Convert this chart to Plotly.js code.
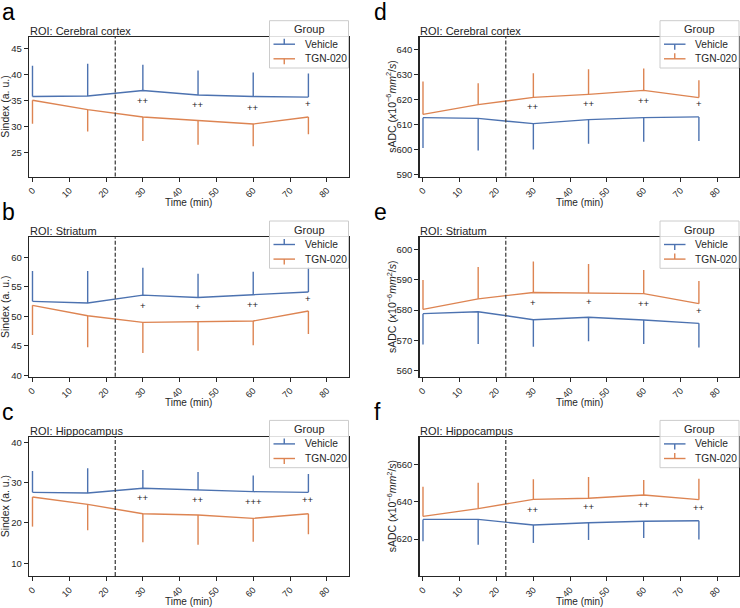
<!DOCTYPE html>
<html>
<head>
<meta charset="utf-8">
<script src="https://cdn.plot.ly/plotly-3.0.1.min.js"></script>
<style>html,body{margin:0;padding:0;background:#fff;}#chart{width:740px;height:608px;}</style>
</head>
<body>
<div id="chart"></div>
<script>
// ---------- data ----------
const timeMin = [0, 15, 30, 45, 60, 75];
const xTickVals = [0, 10, 20, 30, 40, 50, 60, 70, 80];
const injectionTime = 22.5;
const groups = ['Vehicle', 'TGN-020'];
const legendTitle = 'Group';
const sigTimes = [30, 45, 60, 75];

// a: Sindex, Cerebral cortex
const a_vehicle    = [35.8, 35.9, 36.95, 36.1, 35.8, 35.7];
const a_vehicleEnd = [41.7, 42.1, 41.9, 40.8, 40.4, 40.2];
const a_tgn        = [35.1, 33.3, 31.9, 31.25, 30.55, 31.9];
const a_tgnEnd     = [30.6, 29.1, 27.3, 26.6, 26.3, 28.6];
const a_sig  = ['++', '++', '++', '+'];
const a_sigY = [35.1, 34.3, 33.8, 34.5];

// b: Sindex, Striatum
const b_vehicle    = [52.54, 52.26, 53.6, 53.2, 53.67, 54.12];
const b_vehicleEnd = [57.68, 57.68, 58.25, 57.23, 57.57, 58.3];
const b_tgn        = [51.86, 50.1, 48.98, 49.15, 49.2, 50.9];
const b_tgnEnd     = [46.84, 44.75, 43.78, 44.18, 45.08, 47.0];
const b_sig  = ['+', '+', '++', '+'];
const b_sigY = [51.86, 51.75, 52.03, 53.1];

// c: Sindex, Hippocampus
const c_vehicle    = [27.6, 27.44, 28.6, 28.18, 27.77, 27.6];
const c_vehicleEnd = [32.9, 33.6, 33.14, 32.64, 31.8, 32.15];
const c_tgn        = [26.45, 24.6, 22.3, 21.98, 21.15, 22.3];
const c_tgnEnd     = [19.1, 18.2, 15.2, 14.6, 15.37, 17.2];
const c_sig  = ['++', '++', '+++', '++'];
const c_sigY = [26.3, 25.87, 25.37, 25.87];

// d: sADC, Cerebral cortex
const d_vehicle    = [612.8, 612.5, 610.4, 612.0, 612.8, 613.1];
const d_vehicleEnd = [600.7, 599.7, 600.1, 602.4, 603.2, 603.5];
const d_tgn        = [614.1, 618.0, 620.9, 622.1, 623.7, 620.8];
const d_tgnEnd     = [627.2, 626.5, 630.5, 632.1, 632.4, 627.7];
const d_sig  = ['++', '++', '++', '+'];
const d_sigY = [617.1, 618.4, 619.7, 618.3];

// e: sADC, Striatum
const e_vehicle    = [578.8, 579.45, 576.8, 577.6, 576.7, 575.6];
const e_vehicleEnd = [568.6, 568.8, 567.9, 569.7, 568.8, 567.6];
const e_tgn        = [580.2, 583.7, 585.8, 585.6, 585.4, 582.1];
const e_tgnEnd     = [589.9, 594.2, 596.0, 595.2, 593.2, 589.6];
const e_sig  = ['+', '+', '++', '+'];
const e_sigY = [582.5, 582.7, 582.2, 580.0];

// f: sADC, Hippocampus
const f_vehicle    = [630.5, 630.5, 627.5, 628.75, 629.5, 629.8];
const f_vehicleEnd = [618.75, 617.0, 617.9, 619.5, 620.5, 619.8];
const f_tgn        = [632.1, 636.25, 641.25, 641.8, 643.6, 641.1];
const f_tgnEnd     = [648.0, 650.2, 652.0, 653.2, 651.6, 652.3];
const f_sig  = ['++', '++', '++', '++'];
const f_sigY = [635.9, 637.3, 638.6, 637.1];

const panelLetters = ['a', 'b', 'c', 'd', 'e', 'f'];
const roiNames = ['Cerebral cortex', 'Striatum', 'Hippocampus', 'Cerebral cortex', 'Striatum', 'Hippocampus'];
const yTitleLeft = 'Sindex (a. u.)';
const yTitleRight = 'sADC (<i>x</i>10<sup>−6</sup><i>mm</i><sup>2</sup>/<i>s</i>)';
const xTitle = 'Time (min)';

// ---------- styling / layout helpers ----------
const W = 740, H = 608;
const FONT = 'Liberation Sans, Arial, sans-serif';
const BLUE = '#4c72b0', ORANGE = '#dd8452', DARK = '#262626';
const cols = [[29.0, 348.5], [419.5, 739.0]];
const rows = [[37.0, 176.5], [237.3, 376.7], [436.7, 576.0]];
const yRanges = [[20.5, 47.2], [39.76, 63.4], [6.85, 41.4], [589.3, 645.0], [558.0, 604.0], [600.2, 674.8]];
const yDticks = [5, 5, 10, 10, 10, 20];
const xRange = [-0.95, 85.9];

const panels = [
  {veh: a_vehicle, vehEnd: a_vehicleEnd, tgn: a_tgn, tgnEnd: a_tgnEnd, sig: a_sig, sigY: a_sigY},
  {veh: b_vehicle, vehEnd: b_vehicleEnd, tgn: b_tgn, tgnEnd: b_tgnEnd, sig: b_sig, sigY: b_sigY},
  {veh: c_vehicle, vehEnd: c_vehicleEnd, tgn: c_tgn, tgnEnd: c_tgnEnd, sig: c_sig, sigY: c_sigY},
  {veh: d_vehicle, vehEnd: d_vehicleEnd, tgn: d_tgn, tgnEnd: d_tgnEnd, sig: d_sig, sigY: d_sigY},
  {veh: e_vehicle, vehEnd: e_vehicleEnd, tgn: e_tgn, tgnEnd: e_tgnEnd, sig: e_sig, sigY: e_sigY},
  {veh: f_vehicle, vehEnd: f_vehicleEnd, tgn: f_tgn, tgnEnd: f_tgnEnd, sig: f_sig, sigY: f_sigY}
];

function errs(mean, end) {
  const up = mean.map((m, i) => Math.max(0, end[i] - m));
  const down = mean.map((m, i) => Math.max(0, m - end[i]));
  return {up, down};
}

const px = x => x / W;
const py = y => 1 - y / H;

const traces = [];
const layout = {
  width: W, height: H,
  margin: {l: 0, r: 0, t: 0, b: 0},
  paper_bgcolor: '#fff', plot_bgcolor: '#fff',
  font: {family: FONT, color: DARK},
  showlegend: false,
  shapes: [], annotations: []
};

function paperLine(xa, ya, xb, yb, color, width) {
  return {type: 'line', xref: 'paper', yref: 'paper', x0: px(xa), x1: px(xb), y0: py(ya), y1: py(yb),
          line: {color: color, width: width}, layer: 'above'};
}

panels.forEach((p, k) => {
  const n = k + 1;
  const col = k < 3 ? 0 : 1;
  const row = k % 3;
  const xa = n === 1 ? 'x' : 'x' + n;
  const ya = n === 1 ? 'y' : 'y' + n;
  const xKey = n === 1 ? 'xaxis' : 'xaxis' + n;
  const yKey = n === 1 ? 'yaxis' : 'yaxis' + n;
  const [x0, x1] = cols[col];
  const [yt, yb] = rows[row];

  const ev = errs(p.veh, p.vehEnd);
  const et = errs(p.tgn, p.tgnEnd);
  [[groups[0], p.veh, ev, BLUE], [groups[1], p.tgn, et, ORANGE]].forEach(([name, ys, e, color]) => {
    traces.push({
      type: 'scatter', mode: 'lines', name: name,
      x: timeMin, y: ys, xaxis: xa, yaxis: ya,
      line: {color: color, width: 1.4},
      error_y: {type: 'data', symmetric: false, array: e.up, arrayminus: e.down,
                color: color, thickness: 1.4, width: 0},
      hoverinfo: 'skip'
    });
  });

  layout[xKey] = {
    domain: [px(x0), px(x1)], anchor: ya, range: xRange,
    tickmode: 'array', tickvals: xTickVals, ticktext: xTickVals.map(String),
    tickangle: -45, tickfont: {size: 9, color: DARK, family: FONT},
    ticks: 'outside', ticklen: 4, tickwidth: 1, tickcolor: DARK,
    showline: true, mirror: true, linecolor: DARK, linewidth: 1.2,
    showgrid: false, zeroline: false, fixedrange: true
  };
  layout[yKey] = {
    domain: [py(yb), py(yt)], anchor: xa, range: yRanges[k], dtick: yDticks[k], tick0: 0,
    tickfont: {size: 9.5, color: DARK, family: FONT},
    ticks: 'outside', ticklen: 4, tickwidth: 1, tickcolor: DARK,
    showline: true, mirror: true, linecolor: DARK, linewidth: 1.2,
    showgrid: false, zeroline: false, fixedrange: true
  };

  // dashed reference line
  layout.shapes.push({
    type: 'line', xref: xa, yref: ya + ' domain', x0: injectionTime, x1: injectionTime, y0: 0, y1: 1,
    line: {color: '#444', width: 1.3, dash: '4px,2px'}
  });

  // legend box (matplotlib-style, drawn over the frame)
  layout.shapes.push({
    type: 'rect', xref: 'paper', yref: 'paper', layer: 'above',
    x0: px(x1 - 79), x1: px(x1), y0: py(yt + 31), y1: py(yt - 16.3),
    fillcolor: 'rgba(255,255,255,0.85)', line: {color: '#cccccc', width: 1}
  });
  const entryY = [yt + 7.2, yt + 21.8];
  const colors = [BLUE, ORANGE];
  const tickDir = col === 0 ? [-1, 1] : [1, -1]; // -1 = up, 1 = down (pixel direction)
  entryY.forEach((ey, i) => {
    layout.shapes.push(paperLine(x1 - 75, ey, x1 - 53.5, ey, colors[i], 1.4));
    layout.shapes.push(paperLine(x1 - 64.25, ey, x1 - 64.25, ey + 5.5 * tickDir[i], colors[i], 1.4));
    layout.annotations.push({
      xref: 'paper', yref: 'paper', x: px(x1 - 46), y: py(ey), text: groups[i], showarrow: false,
      xanchor: 'left', yanchor: 'middle', font: {size: 10.2, family: FONT, color: DARK}
    });
  });
  layout.annotations.push({
    xref: 'paper', yref: 'paper', x: px(x1 - 39.5), y: py(yt - 7.6), text: legendTitle, showarrow: false,
    xanchor: 'center', yanchor: 'middle', font: {size: 11, family: FONT, color: DARK}
  });

  // significance markers
  p.sig.forEach((s, i) => {
    layout.annotations.push({
      xref: xa, yref: ya, x: sigTimes[i], y: p.sigY[i], text: s, showarrow: false,
      xanchor: 'center', yanchor: 'middle', font: {size: 9.5, family: FONT, color: '#222'}
    });
  });

  // panel letter
  layout.annotations.push({
    xref: 'paper', yref: 'paper', x: px(col === 0 ? 0 : 372), y: py(yt - 25), text: panelLetters[k],
    showarrow: false, xanchor: 'left', yanchor: 'middle', font: {size: 23, family: FONT, color: '#000'}
  });
  // ROI title
  layout.annotations.push({
    xref: 'paper', yref: 'paper', x: px(x0 - 1.5), y: py(yt - 6), text: 'ROI: ' + roiNames[k],
    showarrow: false, xanchor: 'left', yanchor: 'middle', font: {size: 11, family: FONT, color: DARK}
  });
  // x title
  layout.annotations.push({
    xref: 'paper', yref: 'paper', x: px((x0 + x1) / 2), y: py(yb + 25.5), text: xTitle,
    showarrow: false, xanchor: 'center', yanchor: 'middle', font: {size: 10, family: FONT, color: DARK}
  });
  // y title
  layout.annotations.push({
    xref: 'paper', yref: 'paper', x: px(col === 0 ? 5 : 391), y: py((yt + yb) / 2), text: col === 0 ? yTitleLeft : yTitleRight,
    showarrow: false, textangle: -90, xanchor: 'center', yanchor: 'middle', font: {size: 10.5, family: FONT, color: DARK}
  });
});

Plotly.newPlot('chart', traces, layout, {staticPlot: true, displayModeBar: false});
</script>
</body>
</html>
